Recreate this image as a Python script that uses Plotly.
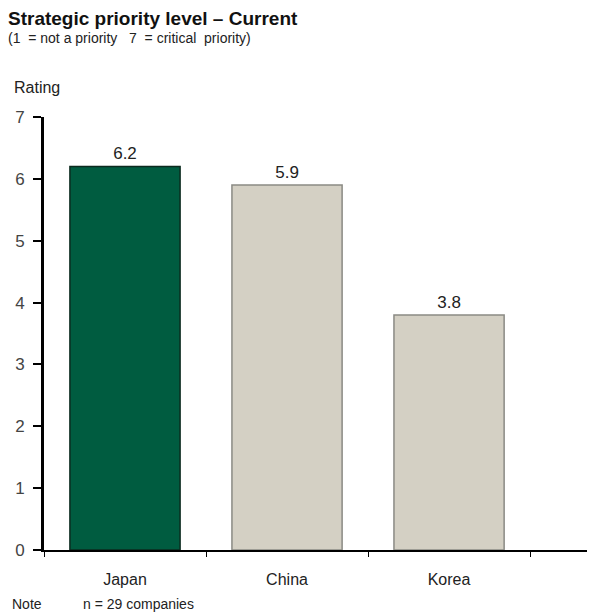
import plotly.graph_objects as go

categories = ["Japan", "China", "Korea"]
values = [6.2, 5.9, 3.8]
value_labels = ["6.2", "5.9", "3.8"]
bar_colors = ["#005C40", "#D4D0C4", "#D4D0C4"]
line_colors = ["#0B2A1E", "#8A8A84", "#8A8A84"]
y_ticks = [0, 1, 2, 3, 4, 5, 6, 7]

FONT = "Arial, Liberation Sans, sans-serif"

# page has an 8px body margin, so the figure is a bit smaller
W, H = 587, 608
L, R, T, B = 36, 5, 109, 66
PW, PH = W - L - R, H - T - B


def px(x):
    return (x - L) / PW


def py(y):
    return (H - B - y) / PH


fig = go.Figure(go.Bar(
    x=categories, y=values,
    marker=dict(color=bar_colors, line=dict(color=line_colors, width=1.5)),
    width=0.68,
    text=value_labels, textposition="outside",
    textfont=dict(family=FONT, size=17, color="#222"),
    cliponaxis=False,
))

title_html = ("<b><span style='font-size:19px;color:#111'>Strategic priority level – Current</span></b>"
              "<br>(1  = not a priority   7  = critical  priority)")

fig.update_layout(
    width=W, height=H, autosize=False,
    margin=dict(l=L, r=R, t=T, b=B),
    plot_bgcolor="white", paper_bgcolor="white",
    showlegend=False,
    font=dict(family=FONT, color="#222"),
    xaxis=dict(
        range=[-0.5, 2.87], showline=True, linecolor="black", linewidth=2,
        ticks="outside", tickson="boundaries", ticklen=5, tickcolor="black",
        tickfont=dict(size=16, color="#222"), showgrid=False,
        ticklabelstandoff=14,
    ),
    yaxis=dict(
        range=[0, 7], tickvals=y_ticks, showline=True, linecolor="black", linewidth=3,
        ticks="outside", ticklen=8, tickcolor="black", tickwidth=2,
        tickfont=dict(size=17, color="#444"), showgrid=False, zeroline=False,
        ticklabelstandoff=5,
    ),
    annotations=[
        dict(text=title_html, x=px(0), y=py(0), xref="paper", yref="paper", align="left",
             showarrow=False, xanchor="left", yanchor="top", borderpad=0, borderwidth=0,
             font=dict(size=14, color="#222")),
        dict(text="Rating", x=px(4), y=py(80), xref="paper", yref="paper",
             showarrow=False, xanchor="left", yanchor="middle", font=dict(size=16, color="#222")),
        dict(text="Note", x=px(2), y=py(596), xref="paper", yref="paper",
             showarrow=False, xanchor="left", yanchor="middle", font=dict(size=14, color="#222")),
        dict(text="n = 29 companies", x=px(73), y=py(596), xref="paper", yref="paper",
             showarrow=False, xanchor="left", yanchor="middle", font=dict(size=14, color="#222")),
    ],
)

fig.write_html("out.html")
